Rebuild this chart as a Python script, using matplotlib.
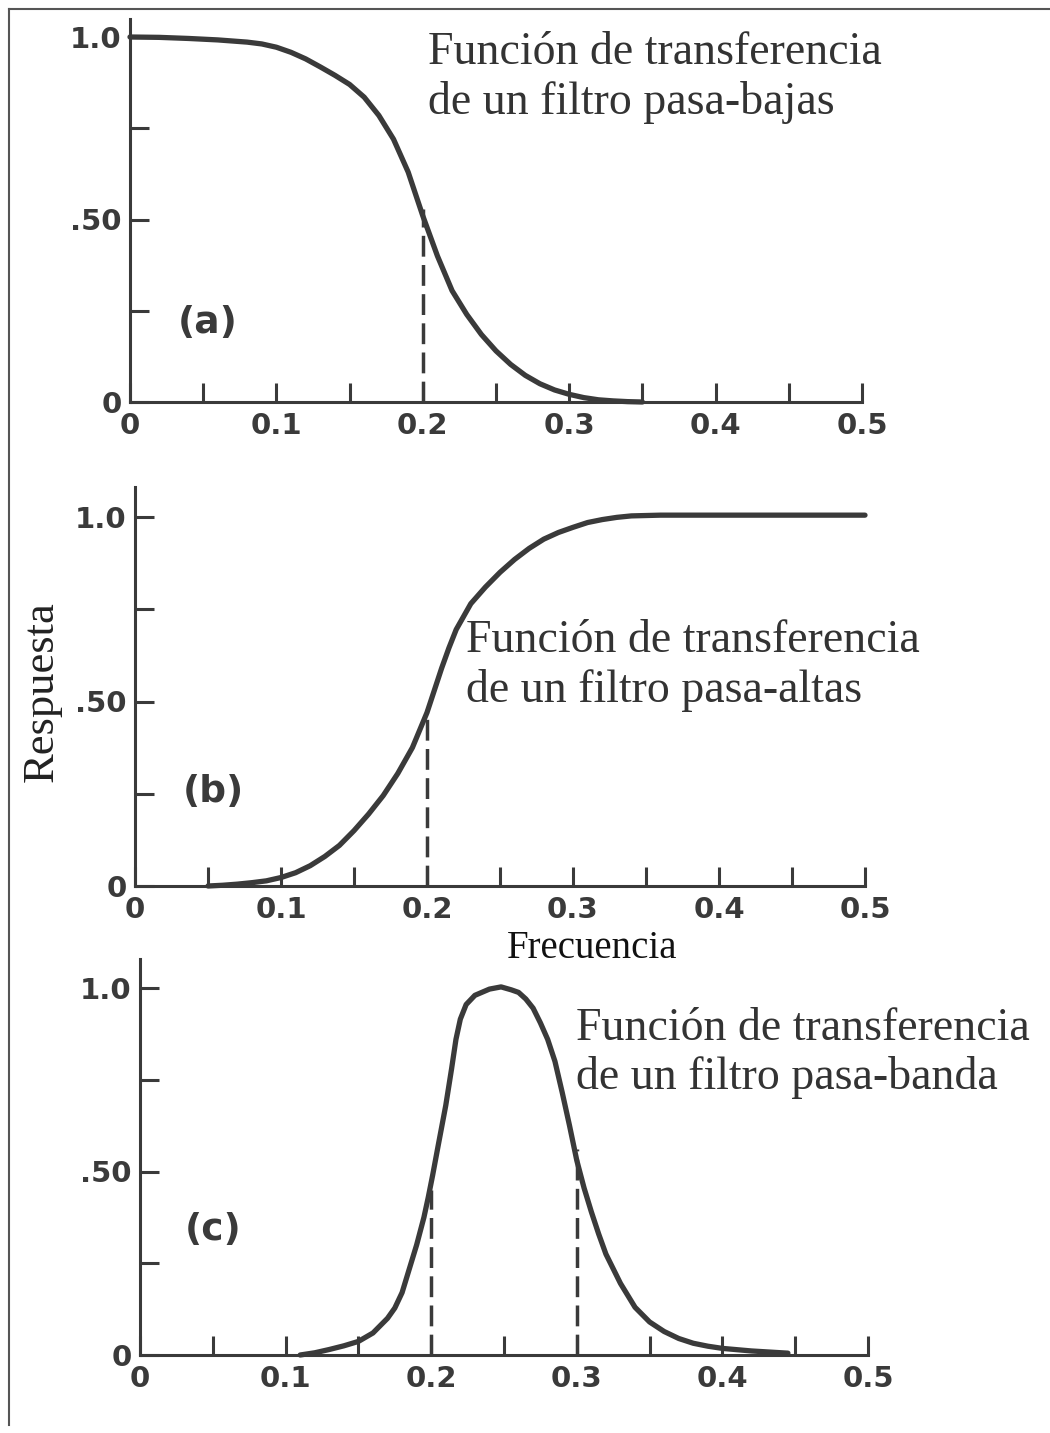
import matplotlib
matplotlib.use('Agg')
import matplotlib.pyplot as plt
from matplotlib.lines import Line2D
import numpy as np

# values
freq_a = [0.0, 0.02, 0.04, 0.06, 0.08, 0.09, 0.10, 0.11, 0.12, 0.13, 0.14,
          0.15, 0.16, 0.17, 0.18, 0.19, 0.20, 0.21, 0.22, 0.23, 0.24, 0.25,
          0.26, 0.27, 0.28, 0.29, 0.30, 0.31, 0.32, 0.33, 0.34, 0.35]
resp_a = [1.0, 0.999, 0.996, 0.992, 0.986, 0.981, 0.972, 0.958, 0.94, 0.918,
          0.895, 0.87, 0.835, 0.785, 0.72, 0.63, 0.51, 0.40, 0.305, 0.24,
          0.185, 0.14, 0.103, 0.073, 0.05, 0.033, 0.021, 0.012, 0.006, 0.003,
          0.001, 0.0]

freq_b = [0.05, 0.06, 0.07, 0.08, 0.09, 0.10, 0.11, 0.12, 0.13, 0.14, 0.15,
          0.16, 0.17, 0.18, 0.19, 0.20, 0.205, 0.21, 0.215, 0.22, 0.23, 0.24,
          0.25, 0.26, 0.27, 0.28, 0.29, 0.30, 0.31, 0.32, 0.33, 0.34, 0.36,
          0.40, 0.45, 0.50]
resp_b = [0.0, 0.002, 0.005, 0.009, 0.014, 0.023, 0.036, 0.055, 0.08, 0.11,
          0.15, 0.195, 0.245, 0.305, 0.375, 0.47, 0.53, 0.59, 0.645, 0.695,
          0.765, 0.81, 0.85, 0.885, 0.915, 0.94, 0.958, 0.972, 0.985, 0.993,
          0.999, 1.003, 1.005, 1.005, 1.005, 1.005]

freq_c = [0.11, 0.12, 0.13, 0.14, 0.15, 0.16, 0.165, 0.17, 0.175, 0.18, 0.185,
          0.19, 0.195, 0.198, 0.201, 0.205, 0.21, 0.214, 0.217, 0.22, 0.224,
          0.23, 0.24, 0.248, 0.255, 0.26, 0.265, 0.27, 0.275, 0.28, 0.285,
          0.29, 0.295, 0.30, 0.305, 0.31, 0.315, 0.32, 0.33, 0.34, 0.35, 0.36,
          0.37, 0.38, 0.39, 0.40, 0.42, 0.445]
resp_c = [0.0, 0.006, 0.015, 0.025, 0.037, 0.06, 0.08, 0.10, 0.128, 0.17,
          0.235, 0.30, 0.375, 0.43, 0.49, 0.575, 0.68, 0.78, 0.86, 0.915,
          0.955, 0.98, 0.997, 1.003, 0.995, 0.988, 0.97, 0.945, 0.905, 0.86,
          0.80, 0.715, 0.625, 0.53, 0.455, 0.39, 0.33, 0.275, 0.195, 0.13,
          0.09, 0.064, 0.045, 0.032, 0.024, 0.018, 0.011, 0.005]

# dashed cut-off markers: (frequency, top of the dash)
cut_a = [(0.2, 0.53)]
cut_b = [(0.2, 0.48)]
cut_c = [(0.2, 0.45), (0.3, 0.56)]

x_ticks = np.arange(0, 0.501, 0.05)
x_labels = ['0', '', '0.1', '', '0.2', '', '0.3', '', '0.4', '', '0.5']
y_ticks = [0, 0.25, 0.5, 0.75, 1.0]
y_labels = ['0', '', '.50', '', '1.0']

names = ['pasa-bajas', 'pasa-altas', 'pasa-banda']
tags = ['(a)', '(b)', '(c)']

W, H = 1050, 1433
ink = '#3a3a3a'

fig = plt.figure(figsize=(W / 100, H / 100), dpi=100)


def make_axes(x0, x1, y0, scale, ymax):
    # pixel geometry -> figure fraction
    return fig.add_axes([x0 / W, 1 - y0 / H, (x1 - x0) / W, ymax * scale / H])


panels = [
    dict(box=(130, 862, 402, 365, 1.05), f=freq_a, r=resp_a, cut=cut_a,
         tag=(208, 323), note=(428, 32)),
    dict(box=(135, 865, 886, 369, 1.08), f=freq_b, r=resp_b, cut=cut_b,
         tag=(213, 792), note=(466, 620)),
    dict(box=(140, 868, 1355, 367, 1.08), f=freq_c, r=resp_c, cut=cut_c,
         tag=(213, 1230), note=(576, 1007)),
]

for i, p in enumerate(panels):
    ax = make_axes(*p['box'])
    ax.set_xlim(0, 0.5)
    ax.set_ylim(0, p['box'][4])
    ax.plot(p['f'], p['r'], color=ink, lw=3.8, solid_capstyle='round',
            solid_joinstyle='round', clip_on=False, zorder=3)
    for fc, top in p['cut']:
        ax.plot([fc, fc], [0, top], color=ink, lw=2.5,
                linestyle=(0, (6, 2.4)), zorder=2)

    for s in ['top', 'right']:
        ax.spines[s].set_visible(False)
    for s in ['left', 'bottom']:
        ax.spines[s].set_linewidth(2.2)
        ax.spines[s].set_color(ink)

    ax.set_xticks(x_ticks)
    ax.set_xticklabels(x_labels)
    ax.set_yticks(y_ticks)
    ax.set_yticklabels(y_labels)
    ax.tick_params(direction='in', length=14, width=2.2, color=ink,
                   labelcolor=ink, labelsize=21)
    ax.tick_params(axis='x', pad=7)
    ax.tick_params(axis='y', pad=6)
    for lab in ax.get_xticklabels() + ax.get_yticklabels():
        lab.set_fontweight('bold')
    ax.patch.set_alpha(0)

    tx, ty = p['tag']
    fig.text(tx / W, 1 - ty / H, tags[i], fontsize=27, fontweight='bold',
             color=ink, ha='center', va='center')
    nx, ny = p['note']
    fig.text(nx / W, 1 - ny / H,
             'Función de transferencia\nde un filtro ' + names[i],
             family='Liberation Serif', fontsize=33, color='#333333',
             ha='left', va='top', linespacing=1.2)

fig.text(42 / W, 1 - 692 / H, 'Respuesta', family='Liberation Serif',
         fontsize=32, rotation=90, ha='center', va='center', color='#222222')
fig.text(592 / W, 1 - 948 / H, 'Frecuencia', family='Liberation Serif',
         fontsize=28, ha='center', va='center', color='#111111')

# scan frame: top and left edges
fig.add_artist(Line2D([9 / W, 1.0], [1 - 9 / H, 1 - 9 / H], color='#555555',
                      lw=1.5))
fig.add_artist(Line2D([9 / W, 9 / W], [1 - 9 / H, 1 - 1425 / H],
                      color='#555555', lw=1.5))

fig.savefig('out.png', dpi=100)
